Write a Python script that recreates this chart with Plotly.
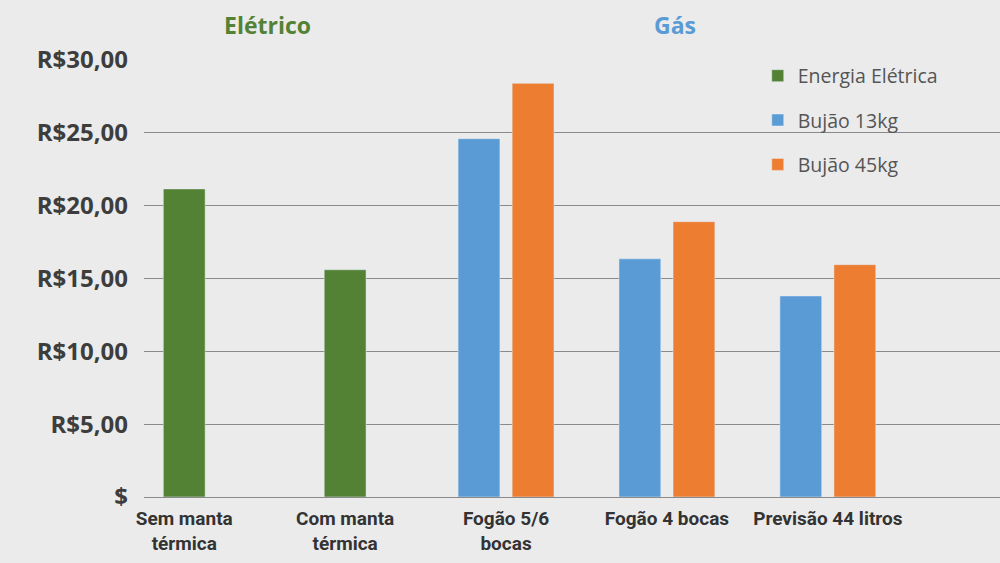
import plotly.graph_objects as go

categories = ["Sem manta<br>térmica", "Com manta<br>térmica", "Fogão 5/6<br>bocas",
              "Fogão 4 bocas", "Previsão 44 litros"]
eletrica_cats = categories[:2]
eletrica_vals = [21.15, 15.6]
gas_cats = categories[2:]
bujao13_vals = [24.6, 16.35, 13.8]
bujao45_vals = [28.4, 18.9, 15.95]
y_tickvals = [0, 5, 10, 15, 20, 25, 30]
y_ticktext = ["$", "R$5,00", "R$10,00", "R$15,00", "R$20,00", "R$25,00", "R$30,00"]

GREEN = "#548235"
BLUE = "#5b9bd5"
ORANGE = "#ed7d31"
BG = "#ebebeb"

fig = go.Figure()
fig.add_trace(go.Bar(name="Energia Elétrica", x=eletrica_cats, y=eletrica_vals,
                     marker_color=GREEN, width=0.26, legendgroup="a"))
fig.add_trace(go.Bar(name="Bujão 13kg", x=gas_cats, y=bujao13_vals,
                     marker_color=BLUE, width=0.26, offset=-0.298, legendgroup="b"))
fig.add_trace(go.Bar(name="Bujão 45kg", x=gas_cats, y=bujao45_vals,
                     marker_color=ORANGE, width=0.26, offset=0.038, legendgroup="c"))

fig.update_layout(
    width=1000, height=563,
    paper_bgcolor=BG, plot_bgcolor=BG,
    margin=dict(l=144, r=0, t=60, b=66),
    barmode="overlay",
    showlegend=True,
    legend=dict(x=0.717, y=1.008, xanchor="left", yanchor="top",
                font=dict(family="Open Sans", size=19.5, color="#555555"),
                bgcolor="rgba(0,0,0,0)", tracegroupgap=16, traceorder="grouped",
                itemwidth=30),
    font=dict(family="Open Sans"),
    xaxis=dict(type="category", categoryorder="array", categoryarray=categories,
               range=[-0.25, 5.07], showgrid=False, showline=False, ticks="",
               ticklabelstandoff=8,
               tickfont=dict(family="Roboto", size=19, color="#333333", weight="bold"),
               automargin=False),
    yaxis=dict(range=[0, 30], tickvals=y_tickvals, ticktext=y_ticktext,
               showgrid=True, gridcolor="#8a8a8a", gridwidth=1.3,
               zeroline=True, zerolinecolor="#8a8a8a", zerolinewidth=1.3,
               ticks="", ticklabelstandoff=15,
               tickfont=dict(family="Open Sans", size=24, color="#3d3d3d", weight="bold"),
               automargin=False),
    annotations=[
        dict(text="<b>Elétrico</b>", x=0.52, y=1.0, xref="x", yref="paper",
             yanchor="middle", yshift=35, showarrow=False,
             font=dict(family="Open Sans", size=23, color=GREEN)),
        dict(text="<b>Gás</b>", x=3.05, y=1.0, xref="x", yref="paper",
             yanchor="middle", yshift=35, showarrow=False,
             font=dict(family="Open Sans", size=23, color=BLUE)),
    ],
)

fig.write_html("out.html", config={"displayModeBar": False},
               post_script="document.body.style.margin='0';document.body.style.overflow='hidden';")
